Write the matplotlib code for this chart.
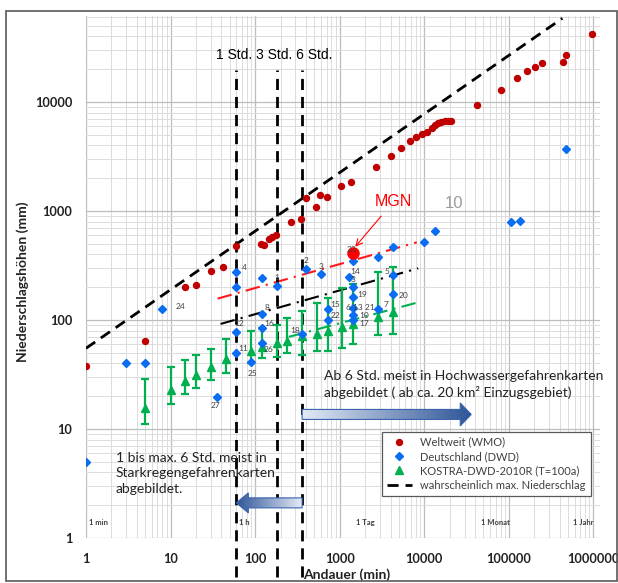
import numpy as np
import matplotlib
matplotlib.use("Agg")
import matplotlib.pyplot as plt
from matplotlib.ticker import LogLocator, FixedLocator, FuncFormatter, NullFormatter
from matplotlib.patches import Polygon, Rectangle
from matplotlib.colors import LinearSegmentedColormap
from matplotlib.lines import Line2D

plt.rcParams['font.family'] = ['Lato', 'DejaVu Sans']

# Weltweit (WMO) - Andauer (min), Niederschlag (mm)
wmo_x = [1, 5, 15, 20, 30, 42, 60, 117, 127, 146, 158, 177, 265, 350, 400, 522, 580, 700,
         1050, 1370, 2720, 4090, 5370, 6830, 8100, 9400, 10900, 12500, 13500, 14600, 15800,
         17600, 19000, 20800, 42000, 81000, 124000, 164000, 204000, 247000, 444000, 481000, 966000]
wmo_y = [38, 64, 200, 210, 282, 306, 477, 497, 490, 556, 575, 600, 794, 845, 1316, 1088, 1400, 1350,
         1690, 1845, 2530, 3200, 3790, 4390, 4780, 5090, 5300, 5800, 6150, 6400, 6600,
         6650, 6650, 6650, 9380, 12970, 16700, 19100, 20800, 22900, 23400, 27200, 41800]

# Deutschland (DWD)
dwd_x = [1, 3, 5, 8, 35, 60, 60, 60, 60, 90, 120, 120, 120, 120, 180, 360, 400, 600,
         720, 720, 1300, 1440, 1440, 1440, 1440, 1440, 1440, 2880, 2880, 4320, 4320, 4320,
         10080, 13600, 106000, 134000, 481000]
dwd_y = [5.0, 40, 40, 125, 19.8, 277, 201, 78, 49.5, 41, 241, 113, 84.5, 61, 206, 74.5, 292, 264,
         125, 99, 246, 350, 200, 164, 128, 111, 99, 381, 125, 464, 259, 173,
         516, 656, 788, 815, 3730]
dwd_lbl = ['', '', '', '24', '27', '4', '', '12', '11', '25', '', '8', '16', '26', '1', '18', '2', '3',
           '15', '22', '14', '23', '3', '19', '6 13 21', '10', '17', '', '7', '', '5', '20',
           '', '', '', '', '']

# KOSTRA-DWD-2010R (T=100a) mit Spannweite
kostra_x = [5, 10, 15, 20, 30, 45, 90, 120, 180, 240, 360, 540, 720, 1080, 1440, 2880, 4320]
kostra_y = [15.5, 22.8, 27.6, 31.3, 37.3, 44.2, 52.3, 56, 61, 64.6, 72, 74, 80, 86, 92, 106, 118]
kostra_lo = [11.1, 16.8, 20.8, 23.9, 28, 32.9, 40.6, 45, 46, 50, 48, 52, 52, 55, 60, 73, 74]
kostra_hi = [28.6, 36.8, 43, 47.7, 53.8, 67, 79.8, 85, 90, 104, 122, 142, 158, 195, 215, 274, 308]

# Linien
pmp_x = [1, 431000]
pmp_y = [55, 58600]
rot_trend_x = [36, 8170]
rot_trend_y = [157, 516]
schwarz_trend_x = [39, 8500]
schwarz_trend_y = [92, 298]
gruen_trend_x = [250, 8170]
gruen_trend_y = [70, 144]
std_x = [60, 180, 360]

mgn_x, mgn_y = 1440, 409

x_ticks = [1, 10, 100, 1000, 10000, 100000, 1000000]
y_ticks = [1, 10, 100, 1000, 10000]

zeit_lbl = ['1 min', '1 h', '1 Tag', '1 Monat', '1 Jahr']
zeit_x = [1, 60, 1440, 43200, 525600]

# Label-Versatz (Pixel) fuer DWD-Nummern
lbl_off = {'24': (18, 3), '27': (-1, -9), '4': (8, 4), '12': (3, 8), '11': (7, 5), '25': (1, -11),
           '8': (5, 7), '16': (7, 4), '26': (7, -6), '1': (0, 8), '18': (-7, 3), '2': (0, 9),
           '3': (0, 8), '15': (8, 5), '22': (8, 5), '14': (6, 6), '23': (-2, 11), '19': (9, 2),
           '6 13 21': (7, 1), '10': (11, 0), '17': (11, -3), '7': (7, 5), '5': (-6, 3), '20': (10, -1)}

ROT = '#C00000'
BLAU = '#0A6CF0'
GRUEN = '#00B050'
GRAU = '#404040'

fig = plt.figure(figsize=(6.18, 5.83), dpi=100)
ax = fig.add_axes([86/618, 1-538/583, 514/618, 522/583])
ax.set_xscale('log')
ax.set_yscale('log')
ax.set_xlim(1, 1.2e6)
ax.set_ylim(1, 6.15e4)

ax.xaxis.set_major_locator(FixedLocator(x_ticks))
ax.yaxis.set_major_locator(FixedLocator(y_ticks))
for a in (ax.xaxis, ax.yaxis):
    a.set_minor_locator(LogLocator(base=10, subs=np.arange(2, 10), numticks=40))
    a.set_minor_formatter(NullFormatter())
    a.set_major_formatter(FuncFormatter(lambda v, p: f'{v:.0f}'))
ax.grid(which='major', color='#BDBDBD', lw=0.9)
ax.grid(which='minor', color='#DCDCDC', lw=0.7)
ax.set_axisbelow(True)
for s in ax.spines.values():
    s.set_visible(False)
ax.tick_params(which='both', length=0)
ax.tick_params(axis='x', pad=11, labelsize=9.2, labelcolor='#222222')
ax.tick_params(axis='y', pad=10, labelsize=9.2, labelcolor='#222222')
for t in ax.get_xticklabels() + ax.get_yticklabels():
    t.set_fontweight('bold')

# Linien
ax.plot(pmp_x, pmp_y, color='black', lw=2, ls=(0, (4, 2.5)), zorder=3)
ax.plot(rot_trend_x, rot_trend_y, color='#FF1A1A', lw=1.5, ls=(0, (7, 3, 1, 3)), zorder=3)
ax.plot(schwarz_trend_x, schwarz_trend_y, color='black', lw=1.5, ls=(0, (7, 3, 1, 3)), zorder=3)
ax.plot(gruen_trend_x, gruen_trend_y, color=GRUEN, lw=1.5, ls=(0, (7, 3, 1, 3)), zorder=3)
for x in std_x:
    ax.plot([x, x], [0.44, 19700], color='black', lw=2, ls=(0, (4, 2.5)), clip_on=False, zorder=4)

# Punkte
ax.errorbar(kostra_x, kostra_y,
            yerr=[np.array(kostra_y) - np.array(kostra_lo), np.array(kostra_hi) - np.array(kostra_y)],
            fmt='^', color=GRUEN, ms=6, elinewidth=1.6, capsize=3, capthick=1.6, zorder=5)
ax.plot(wmo_x, wmo_y, 'o', color=ROT, ms=4.3, zorder=6)
ax.plot(dwd_x, dwd_y, 'D', color=BLAU, ms=4, zorder=6)
ax.plot([mgn_x], [mgn_y], 'o', color='#FF0000', ms=8, zorder=7)

for x, y, l in zip(dwd_x, dwd_y, dwd_lbl):
    if l:
        ax.annotate(l, (x, y), xytext=lbl_off[l], textcoords='offset pixels',
                    ha='center', va='center', fontsize=6, color=GRAU, zorder=8)

ax.annotate('MGN', xy=(1530, 470), xytext=(4320, 1217), color='#FF0000', fontsize=11.5,
            family='Liberation Sans', ha='center', va='center',
            arrowprops=dict(arrowstyle='->', color='#FF0000', lw=0.8, shrinkA=4, shrinkB=0))
ax.text(22500, 1160, '10', color='#9A9A9A', fontsize=12, family='Liberation Sans',
        ha='center', va='center')
ax.text(34.5, 27000, '1 Std. 3 Std. 6 Std.', fontsize=10, family='Liberation Sans',
        ha='left', va='center', color='black')

for l, x in zip(zeit_lbl, zeit_x):
    ax.annotate(l, (x, 1.4), xytext=(3, 0), textcoords='offset pixels', ha='left', va='center',
                fontsize=5.5, fontweight='bold', color=GRAU)

ax.text(2.25, 6.2, '1 bis max. 6 Std. meist in\nStarkregengefahrenkarten\nabgebildet.',
        fontsize=10, color='#222222', ha='left', va='top', linespacing=1.35, zorder=9)
ax.text(649, 35, 'Ab 6 Std. meist in Hochwassergefahrenkarten\nabgebildet ( ab ca. 20 km² Einzugsgebiet)',
        fontsize=10, color='#222222', ha='left', va='top', linespacing=1.35, zorder=9)

handles = [Line2D([], [], marker='o', color=ROT, ls='', ms=4.3),
           Line2D([], [], marker='D', color=BLAU, ls='', ms=3.6),
           Line2D([], [], marker='^', color=GRUEN, ls='', ms=6),
           Line2D([], [], color='black', lw=2, ls=(0, (4, 2.5)))]
names = ['Weltweit (WMO)', 'Deutschland (DWD)', 'KOSTRA-DWD-2010R (T=100a)',
         'wahrscheinlich max. Niederschlag']
leg = ax.legend(handles, names, loc='upper left', bbox_to_anchor=(0.576, 0.204), borderaxespad=0,
                fontsize=8, frameon=True, fancybox=False, framealpha=1, edgecolor='#595959',
                handlelength=2.2, labelspacing=0.3, borderpad=0.45)
leg.get_frame().set_linewidth(0.9)
leg.set_zorder(10)
for t in leg.get_texts():
    t.set_color(GRAU)

fig.text(23/618, 1-282/583, 'Niederschlagshöhen (mm)', rotation=90, ha='center', va='center',
         fontsize=10, fontweight='bold', color='#222222')
fig.text(347/618, 1-575/583, 'Andauer (min)', ha='center', va='center',
         fontsize=10, fontweight='bold', color='#222222')

# Pfeile im Pixelraster der Figur
ov = fig.add_axes([0, 0, 1, 1], zorder=5)
ov.set_autoscale_on(False)
ov.set_xlim(0, 618)
ov.set_ylim(0, 583)
ov.axis('off')
ov.patch.set_alpha(0)
cm = LinearSegmentedColormap.from_list('pf', ['#E3EAF6', '#2E5597'])


def pfeil(x_tail, x_tip, y, body, head, hlen):
    t = ax.transData.transform((x_tail, y))
    p = ax.transData.transform((x_tip, y))
    x0, x1, yc = t[0], p[0], t[1]
    d = 1 if x1 > x0 else -1
    xb = x1 - d * hlen
    pts = [(x0, yc - body), (xb, yc - body), (xb, yc - head), (x1, yc),
           (xb, yc + head), (xb, yc + body), (x0, yc + body)]
    poly = Polygon(pts, closed=True, fc='none', ec='#3B64AD', lw=0.8, zorder=3)
    ov.add_patch(poly)
    grad = np.linspace(0, 1, 256).reshape(1, -1)
    if d < 0:
        grad = grad[:, ::-1]
    im = ov.imshow(grad, cmap=cm, extent=[min(x0, x1), max(x0, x1), yc - head, yc + head],
                   aspect='auto', zorder=2, interpolation='bilinear')
    im.set_clip_path(poly)


pfeil(360, 60, 2.1, 5, 10, 12)
pfeil(360, 36000, 13.6, 5, 11.5, 11)

ov.add_patch(Rectangle((6, 2), 611, 570, fill=False, ec='#595959', lw=1.2))
ov.set_xlim(0, 618)
ov.set_ylim(0, 583)

fig.savefig('out.png', dpi=100)
